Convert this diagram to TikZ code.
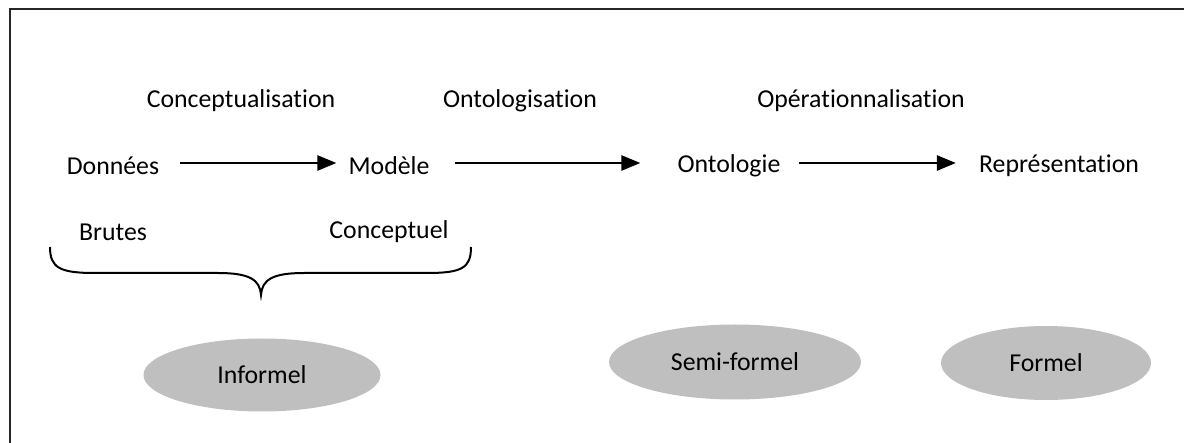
\documentclass[tikz,border=0pt]{standalone}
\usepackage{fontspec}
\setmainfont{Carlito}[Ligatures=NoCommon]
\usetikzlibrary{arrows.meta,shapes.geometric}
\begin{document}
\begin{tikzpicture}[x=1pt,y=-1pt,
  lbl/.style={font=\fontsize{25.8}{30}\selectfont, inner sep=0pt, text=black},
  arr/.style={line width=2.6pt, -{Triangle[length=19pt,width=15pt]}},
  oval/.style={ellipse, fill=black!25, inner sep=0pt, font=\fontsize{25.8}{30}\selectfont}]
\useasboundingbox (0,0) rectangle (1184,443);
\draw[line width=2pt, black!85] (10,445) -- (10,9) -- (1186,9);
% process labels
\node[lbl] (c1) at (241,101) {Conceptualisation};
\node[lbl] (c2) at (520,101) {Ontologisation};
\node[lbl] (c3) at (861,101) {Opérationnalisation};
% main row
\node[lbl] (don) at (113,166) {Données};
\node[lbl] (mod) at (389,166) {Modèle};
\node[lbl] (ont) at (729,166) {Ontologie};
\node[lbl] (rep) at (1059,166) {Représentation};
\node[lbl] (bru) at (113,232) {Brutes};
\node[lbl] (con) at (389,232) {Conceptuel};
% arrows
\draw[arr] ([xshift=21pt,yshift=3pt]don.east) -- ([xshift=-12pt,yshift=3pt]mod.west);
\draw[arr] ([xshift=25pt,yshift=3pt]mod.east) -- ([xshift=-37pt,yshift=3pt]ont.west);
\draw[arr] ([xshift=18pt,yshift=3pt]ont.east) -- ([xshift=-23pt,yshift=3pt]rep.west);
% brace
\draw[line width=2pt] (50,247) .. controls (50,268) and (60,273) .. (95,273)
  -- (218,273) .. controls (250,273) and (260,280) .. (261,295)
  .. controls (262,280) and (272,273) .. (304,273)
  -- (427,273) .. controls (462,273) and (471,268) .. (471,247);
% ovals
\node[oval, minimum width=237pt, minimum height=73pt] (inf) at (262,375) {Informel};
\node[oval, minimum width=252pt, minimum height=75pt] (semi) at (735,362) {Semi-formel};
\node[oval, minimum width=210pt, minimum height=74pt] (for) at (1046,363) {Formel};
\end{tikzpicture}
\end{document}
